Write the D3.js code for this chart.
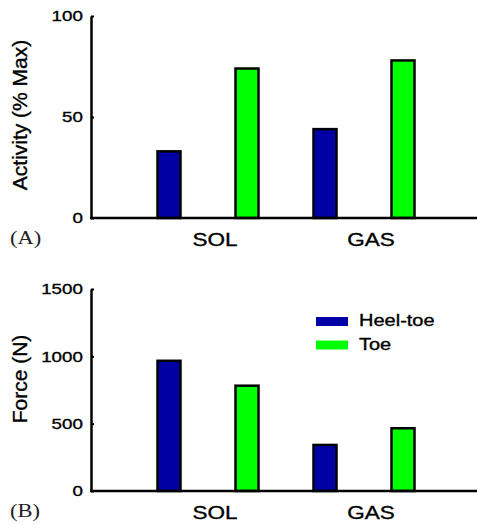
<!DOCTYPE html>
<html>
<head>
<meta charset="utf-8">
<script src="https://cdn.jsdelivr.net/npm/d3@7"></script>
<style>
  body { margin: 0; background: #fff; }
  svg { display: block; }
  text { stroke: #000; stroke-width: 0.35px; }
  text.letter { stroke: none; }
</style>
</head>
<body>
<svg id="plot" width="477" height="525"></svg>
<script>
const muscles = ["SOL", "GAS"];
const conditions = ["Heel-toe", "Toe"];
const activityHeelToe = [33, 44];
const activityToe = [74, 78];
const forceHeelToe = [967, 342];
const forceToe = [782, 466];
const activityTicks = [0, 50, 100];
const forceTicks = [0, 500, 1000, 1500];

const colors = ["#0000a4", "#00ff00"];
const svg = d3.select("#plot");
const W = 477;
const axisX = 91;
const barW = 23;
const stretch = 1.25; // the original text is wide, squash it out sideways
const sans = "'Liberation Sans', Arial, sans-serif";

const x = d3.scaleBand().domain(muscles).range([130, 442]);
const xIn = d3.scalePoint().domain(conditions).range([0, x.bandwidth()]).padding(0.5);

function wideText(g, tx, ty, txt, size, anchor, family) {
    return g.append("text")
        .attr("transform", "translate(" + tx + "," + ty + ") scale(" + stretch + ",1)")
        .attr("text-anchor", anchor)
        .attr("font-family", family || sans)
        .attr("font-size", size + "px")
        .attr("fill", "#000")
        .text(txt);
}

function panel(series, ticks, top, bottom, yLabel, letter, labelY) {
    const g = svg.append("g");
    const y = d3.scaleLinear().domain([0, d3.max(ticks)]).range([bottom, top]);

    // bars
    const rows = [];
    muscles.forEach(function(m, i) {
        conditions.forEach(function(c, j) {
            rows.push({muscle: m, cond: c, value: series[j][i], k: j});
        });
    });
    g.selectAll("rect.bar")
        .data(rows)
        .enter().append("rect")
            .attr("class", "bar")
            .attr("x", function(d) { return x(d.muscle) + xIn(d.cond) - barW / 2; })
            .attr("y", function(d) { return y(d.value); })
            .attr("width", barW)
            .attr("height", function(d) { return y(0) - y(d.value); })
            .attr("fill", function(d) { return colors[d.k]; })
            .attr("stroke", "#000")
            .attr("stroke-width", 2.5);

    // y axis, ticks point inward
    const ax = g.append("g")
        .attr("transform", "translate(" + axisX + ",0)")
        .call(d3.axisLeft(y).tickValues(ticks).tickFormat(d3.format("d"))
            .tickSizeInner(-3).tickSizeOuter(0).tickPadding(6.5));
    ax.select(".domain").attr("stroke", "#000").attr("stroke-width", 2.5);
    ax.selectAll(".tick line").attr("stroke", "#000").attr("stroke-width", 2);
    ax.selectAll(".tick text")
        .attr("font-family", sans)
        .attr("font-size", "15px")
        .attr("fill", "#000")
        .attr("transform", "scale(" + stretch + ",1)");

    // x axis line
    g.append("line")
        .attr("x1", axisX - 1).attr("x2", W)
        .attr("y1", y(0)).attr("y2", y(0))
        .attr("stroke", "#000").attr("stroke-width", 2.5);

    muscles.forEach(function(m) {
        wideText(g, x(m) + x.bandwidth() / 2 + 7, y(0) + 28, m, 18, "middle");
    });

    // y title
    g.append("text")
        .attr("transform", "translate(27," + labelY + ") rotate(-90)")
        .attr("text-anchor", "middle")
        .attr("font-family", sans)
        .attr("font-size", "21px")
        .attr("fill", "#000")
        .text(yLabel);

    wideText(g, 10, y(0) + 25.5, letter, 18, "start", "'Liberation Serif', 'Times New Roman', serif")
        .attr("class", "letter")
        .attr("fill", "#222");
    return g;
}

panel([activityHeelToe, activityToe], activityTicks, 16, 218, "Activity (% Max)", "(A)", 115);
const gB = panel([forceHeelToe, forceToe], forceTicks, 289, 491, "Force (N)", "(B)", 379);

// legend
const leg = gB.selectAll("g.leg")
    .data(conditions)
    .enter().append("g")
        .attr("class", "leg")
        .attr("transform", function(d, i) { return "translate(316," + (317 + i * 23.5) + ")"; });
leg.append("rect")
    .attr("width", 32)
    .attr("height", 9)
    .attr("fill", function(d, i) { return colors[i]; });
leg.each(function(d) {
    wideText(d3.select(this), 43, 9, d, 16, "start");
});
</script>
</body>
</html>
